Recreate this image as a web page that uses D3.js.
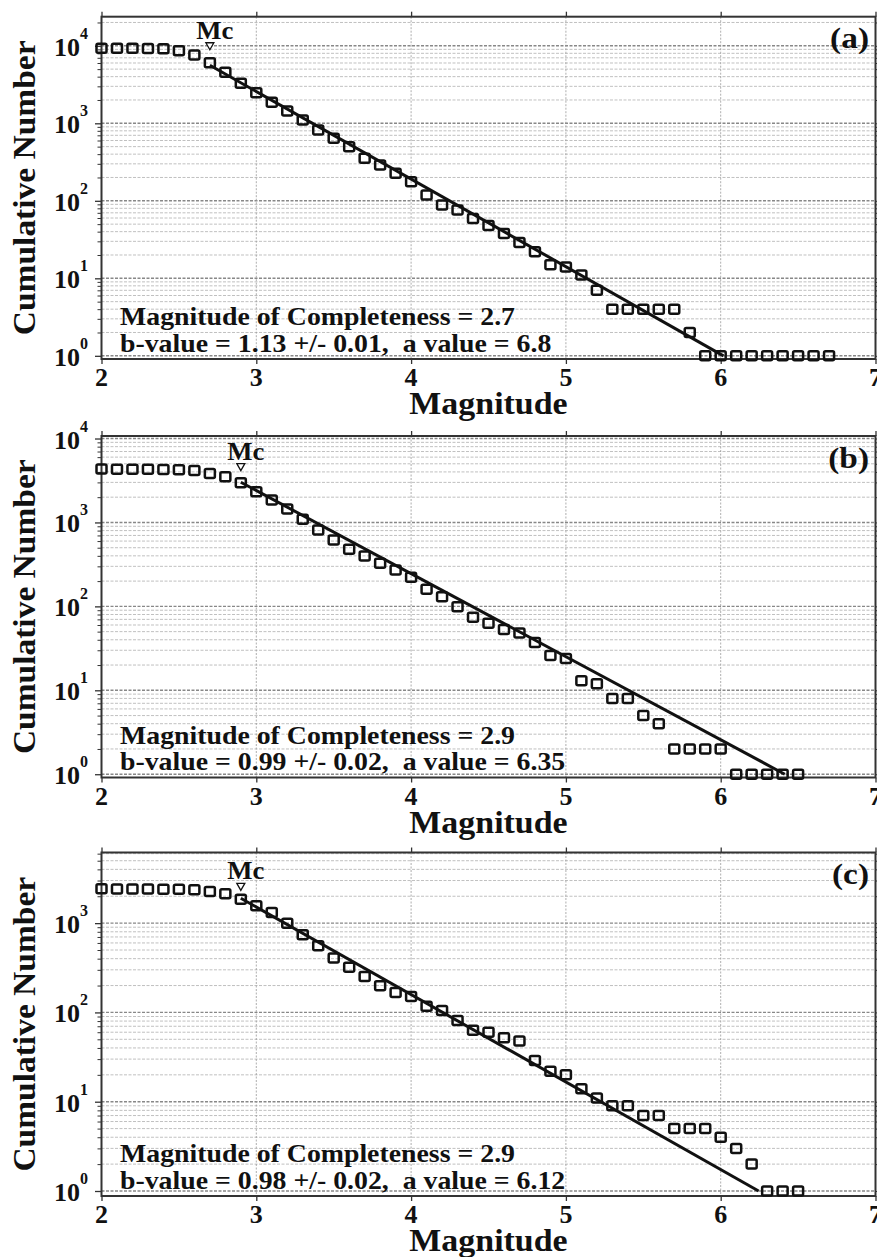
<!DOCTYPE html>
<html lang="en">

<head>
  <meta charset="utf-8" />
  <title>Gutenberg-Richter</title>
  <script type="text/javascript" src="https://cdn.jsdelivr.net/npm/d3@7/dist/d3.min.js"></script>
  <style>
    body {
      margin: 0;
      background: #fff;
    }

    text {
      font-family: "Liberation Serif", "Times New Roman", serif;
      font-weight: bold;
      fill: #111;
    }
  </style>
</head>

<body>
  <script type="text/javascript">
    // magnitudes and cumulative counts per panel
    var magsA = [2.0, 2.1, 2.2, 2.3, 2.4, 2.5, 2.6, 2.7, 2.8, 2.9, 3.0, 3.1, 3.2, 3.3, 3.4, 3.5, 3.6, 3.7, 3.8, 3.9,
      4.0, 4.1, 4.2, 4.3, 4.4, 4.5, 4.6, 4.7, 4.8, 4.9, 5.0, 5.1, 5.2, 5.3, 5.4, 5.5, 5.6, 5.7, 5.8, 5.9,
      6.0, 6.1, 6.2, 6.3, 6.4, 6.5, 6.6, 6.7];
    var countsA = [9300, 9290, 9270, 9240, 9190, 8650, 7600, 6050, 4550, 3280, 2480, 1870, 1440, 1100, 820, 640, 500, 353, 290, 226,
      176, 119, 88, 76, 59, 48, 38, 29, 22, 15, 14, 11, 7, 4, 4, 4, 4, 4, 2, 1,
      1, 1, 1, 1, 1, 1, 1, 1];

    var magsB = [2.0, 2.1, 2.2, 2.3, 2.4, 2.5, 2.6, 2.7, 2.8, 2.9, 3.0, 3.1, 3.2, 3.3, 3.4, 3.5, 3.6, 3.7, 3.8, 3.9,
      4.0, 4.1, 4.2, 4.3, 4.4, 4.5, 4.6, 4.7, 4.8, 4.9, 5.0, 5.1, 5.2, 5.3, 5.4, 5.5, 5.6, 5.7, 5.8, 5.9,
      6.0, 6.1, 6.2, 6.3, 6.4, 6.5];
    var countsB = [4320, 4310, 4300, 4290, 4270, 4240, 4150, 3840, 3510, 2975, 2320, 1850, 1445, 1090, 812, 617, 478, 398, 326, 271,
      222, 160, 130, 99, 74, 63, 53, 48, 37, 26, 24, 13, 12, 8, 8, 5, 4, 2, 2, 2,
      2, 1, 1, 1, 1, 1];

    var magsC = [2.0, 2.1, 2.2, 2.3, 2.4, 2.5, 2.6, 2.7, 2.8, 2.9, 3.0, 3.1, 3.2, 3.3, 3.4, 3.5, 3.6, 3.7, 3.8, 3.9,
      4.0, 4.1, 4.2, 4.3, 4.4, 4.5, 4.6, 4.7, 4.8, 4.9, 5.0, 5.1, 5.2, 5.3, 5.4, 5.5, 5.6, 5.7, 5.8, 5.9,
      6.0, 6.1, 6.2, 6.3, 6.4, 6.5];
    var countsC = [2420, 2415, 2410, 2405, 2400, 2390, 2370, 2260, 2130, 1857, 1563, 1315, 1000, 740, 557, 406, 321, 252, 199, 167,
      151, 117, 105, 81, 63, 60, 52, 48, 29, 22, 20, 14, 11, 9, 9, 7, 7, 5, 5, 5,
      4, 3, 2, 1, 1, 1];

    // fit results
    var mcValues = [2.7, 2.9, 2.9];
    var bValues = [1.13, 0.99, 0.98];
    var bErrors = [0.01, 0.02, 0.02];
    var aValues = [6.8, 6.35, 6.12];
    var panelLabels = ["(a)", "(b)", "(c)"];
    var xTicks = [2, 3, 4, 5, 6, 7];

    var width = 877;
    var height = 1257;
    var left = 101.5, right = 875.5;

    // pixel layout of the three panels (log10 extent of y axis)
    var panels = [
      { top: 16.7, bottom: 359, lo: -0.041, hi: 4.3755, mags: magsA, counts: countsA },
      { top: 436, bottom: 777.5, lo: -0.039, hi: 4.03, mags: magsB, counts: countsB },
      { top: 852.5, bottom: 1196, lo: -0.056, hi: 3.791, mags: magsC, counts: countsC }
    ];

    var svg = d3.select("body")
      .append("svg")
      .attr("width", width)
      .attr("height", height);

    var x = d3.scaleLinear().domain([2, 7]).range([left, right]);

    function addText(g, px, py, str, size, sx, anchor) {
      return g.append("text")
        .attr("transform", "translate(" + px + "," + py + ") scale(" + sx + ",1)")
        .attr("text-anchor", anchor)
        .attr("font-size", size)
        .style("white-space", "pre")
        .text(str);
    }

    panels.forEach(function (p, k) {
      var g = svg.append("g");
      var y = d3.scaleLog()
        .domain([Math.pow(10, p.lo), Math.pow(10, p.hi)])
        .range([p.bottom, p.top]);

      // grid values 1..9 x 10^n inside domain
      var minor = [], major = [];
      for (var e = 0; e <= 4; e++) {
        for (var m = 1; m <= 9; m++) {
          var v = m * Math.pow(10, e);
          if (v >= y.domain()[0] && v <= y.domain()[1]) {
            if (m == 1) major.push(v); else minor.push(v);
          }
        }
      }

      g.selectAll(".hminor")
        .data(minor)
        .enter()
        .append("line")
        .attr("x1", left).attr("x2", right)
        .attr("y1", function (d) { return y(d); })
        .attr("y2", function (d) { return y(d); })
        .attr("stroke", "#b0b0b0")
        .attr("stroke-width", 0.8)
        .attr("stroke-dasharray", "3,1.5");

      g.selectAll(".hmajor")
        .data(major)
        .enter()
        .append("line")
        .attr("x1", left).attr("x2", right)
        .attr("y1", function (d) { return y(d); })
        .attr("y2", function (d) { return y(d); })
        .attr("stroke", "#888")
        .attr("stroke-width", 1.4)
        .attr("stroke-dasharray", "3,1.5");

      g.selectAll(".vgrid")
        .data(xTicks.slice(1, -1))
        .enter()
        .append("line")
        .attr("x1", function (d) { return x(d); })
        .attr("x2", function (d) { return x(d); })
        .attr("y1", p.top).attr("y2", p.bottom)
        .attr("stroke", "#999")
        .attr("stroke-width", 0.8)
        .attr("stroke-dasharray", "2,1.5");

      // axes: ticks only, labels are custom
      g.append("g")
        .attr("transform", "translate(" + left + ",0)")
        .call(d3.axisLeft(y).tickValues(major).tickSize(6.5).tickFormat(""))
        .call(function (a) { a.select(".domain").remove(); a.selectAll("line").attr("stroke", "#333").attr("stroke-width", 1.3); });
      g.append("g")
        .attr("transform", "translate(" + left + ",0)")
        .call(d3.axisLeft(y).tickValues(minor).tickSize(4).tickFormat(""))
        .call(function (a) { a.select(".domain").remove(); a.selectAll("line").attr("stroke", "#333").attr("stroke-width", 1); });
      g.append("g")
        .attr("transform", "translate(" + right + ",0)")
        .call(d3.axisRight(y).tickValues(minor.concat(major)).tickSize(4).tickFormat(""))
        .call(function (a) { a.select(".domain").remove(); a.selectAll("line").attr("stroke", "#333"); });
      g.append("g")
        .attr("transform", "translate(0," + p.bottom + ")")
        .call(d3.axisBottom(x).tickValues(xTicks).tickSize(5).tickFormat(""))
        .call(function (a) { a.select(".domain").remove(); a.selectAll("line").attr("stroke", "#333").attr("stroke-width", 1.3); });
      g.append("g")
        .attr("transform", "translate(0," + p.top + ")")
        .call(d3.axisTop(x).tickValues(xTicks).tickSize(5).tickFormat(""))
        .call(function (a) { a.select(".domain").remove(); a.selectAll("line").attr("stroke", "#333").attr("stroke-width", 1.3); });

      g.append("rect")
        .attr("x", left).attr("y", p.top)
        .attr("width", right - left).attr("height", p.bottom - p.top)
        .attr("fill", "none")
        .attr("stroke", "#333")
        .attr("stroke-width", 2);

      // y tick labels 10^n
      major.forEach(function (v) {
        var t = g.append("text")
          .attr("x", 88)
          .attr("y", y(v) + 10)
          .attr("text-anchor", "end")
          .attr("font-size", 26);
        t.append("tspan").text("10");
        t.append("tspan")
          .attr("font-size", 16)
          .attr("dy", -17)
          .text(Math.round(Math.log10(v)));
      });

      // x tick labels
      xTicks.forEach(function (v) {
        g.append("text")
          .attr("x", x(v))
          .attr("y", p.bottom + 27)
          .attr("text-anchor", "middle")
          .attr("font-size", 26)
          .text(v);
      });

      addText(g, (left + right) / 2, p.bottom + 55, "Magnitude", 32, 1.06, "middle");

      g.append("text")
        .attr("transform", "translate(35," + ((p.top + p.bottom) / 2) + ") rotate(-90) scale(1.08,1)")
        .attr("text-anchor", "middle")
        .attr("font-size", 31)
        .text("Cumulative Number");

      addText(g, 869, p.top + 31.6, panelLabels[k], 29, 1.15, "end");

      // fitted Gutenberg-Richter line from Mc to N = 1
      var a = aValues[k], b = bValues[k], mc = mcValues[k];
      var fit = [[mc, Math.pow(10, a - b * mc)], [a / b, 1]];
      g.append("path")
        .datum(fit)
        .attr("d", d3.line()
          .x(function (d) { return x(d[0]); })
          .y(function (d) { return y(d[1]); }))
        .attr("fill", "none")
        .attr("stroke", "#111")
        .attr("stroke-width", 3);

      // observed cumulative counts
      g.selectAll(".pt")
        .data(p.mags)
        .enter()
        .append("rect")
        .attr("x", function (d) { return x(d) - 5; })
        .attr("y", function (d, i) { return y(p.counts[i]) - 4.5; })
        .attr("width", 10)
        .attr("height", 9)
        .attr("rx", 1.5)
        .attr("fill", "none")
        .attr("stroke", "#111")
        .attr("stroke-width", 2.5);

      // Mc marker
      var nmax = d3.max(p.counts);
      var tx = x(mc), ty = y(nmax) - 2;
      g.append("path")
        .attr("d", "M" + (tx - 4) + "," + (ty - 3.5) + "L" + (tx + 4) + "," + (ty - 3.5) + "L" + tx + "," + (ty + 3.5) + "Z")
        .attr("fill", "#fff")
        .attr("stroke", "#111")
        .attr("stroke-width", 1.3);
      addText(g, tx + 5, ty - 7.5, "Mc", 25, 1.07, "middle");

      // annotation
      addText(g, 120, p.bottom - 34, "Magnitude of Completeness = " + mc, 26, 1.07, "start");
      addText(g, 120, p.bottom - 7.5, "b-value = " + b.toFixed(2) + " +/- " + bErrors[k].toFixed(2) + ",  a value = " + a, 26, 1.07, "start");
    });
  </script>
</body>

</html>
